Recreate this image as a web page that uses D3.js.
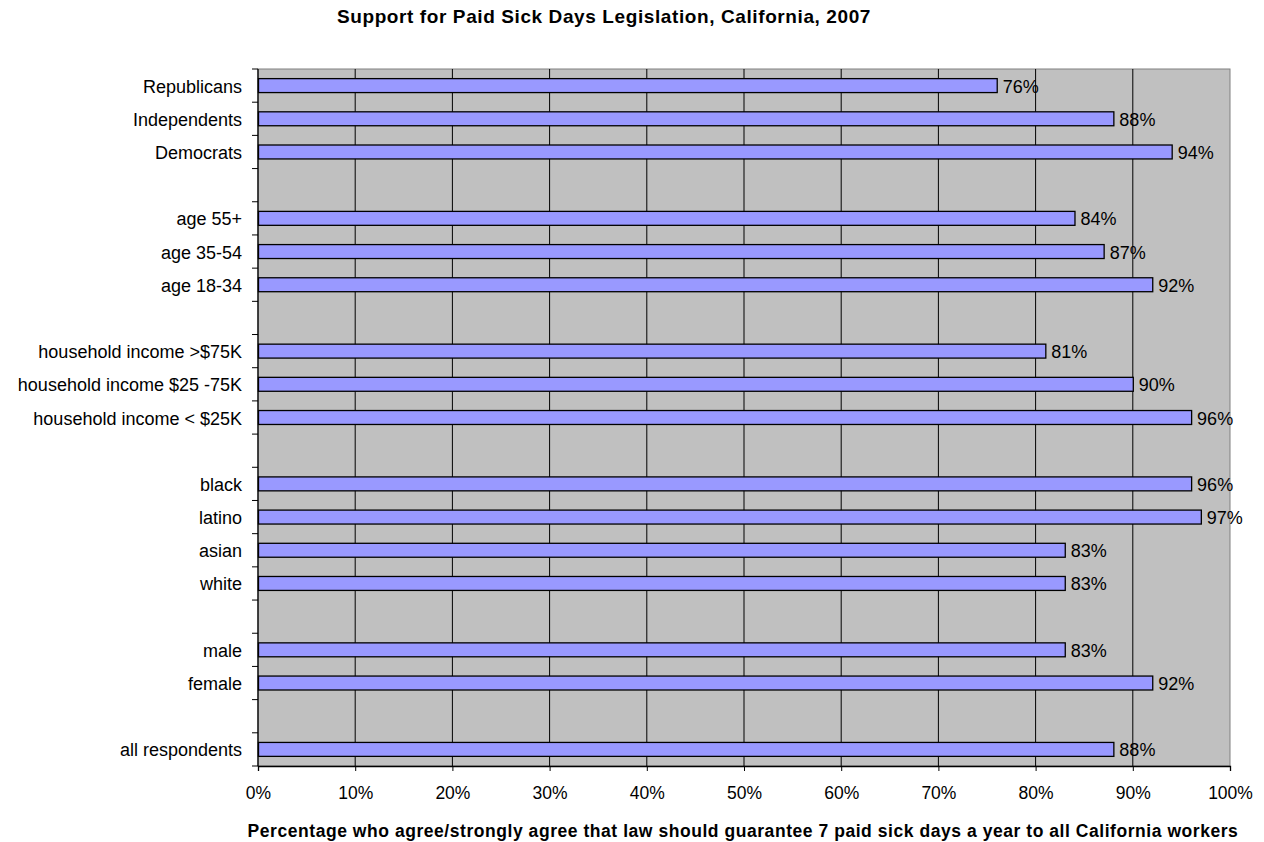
<!DOCTYPE html>
<html>
<head>
<meta charset="utf-8">
<style>
body { margin: 0; background: #fff; }
svg text { font-family: "Liberation Sans", Arial, sans-serif; }
</style>
</head>
<body>
<svg id="svg"></svg>
<script src="https://cdnjs.cloudflare.com/ajax/libs/d3/7.8.5/d3.min.js"></script>
<script>
// slots from top to bottom, blank strings are the gaps between groups
var categories = ['Republicans', 'Independents', 'Democrats', '',
  'age 55+', 'age 35-54', 'age 18-34', '',
  'household income >$75K', 'household income $25 -75K', 'household income < $25K', '',
  'black', 'latino', 'asian', 'white', '',
  'male', 'female', '',
  'all respondents']
var values = [76, 88, 94, null,
  84, 87, 92, null,
  81, 90, 96, null,
  96, 97, 83, 83, null,
  83, 92, null,
  88]
var xTicks = [0, 10, 20, 30, 40, 50, 60, 70, 80, 90, 100]

var title = 'Support for Paid Sick Days Legislation, California, 2007'
var xTitle = 'Percentage who agree/strongly agree that law should guarantee 7 paid sick days a year to all California workers'

var W = 1264, H = 842
var margin = {top: 69, right: 34, bottom: 76, left: 258}
var width = W - margin.left - margin.right,
    height = H - margin.top - margin.bottom

var svg = d3.select('#svg').attr('width', W).attr('height', H)

var x = d3.scaleLinear().domain([0, 100]).range([0, width])
var slots = categories.map(function(d, i) { return i })
var y = d3.scaleBand().domain(slots).range([0, height])

var g = svg.append('g').attr('transform', 'translate(' + margin.left + ',' + margin.top + ')')

// plot background
g.append('rect')
  .attr('width', width).attr('height', height)
  .attr('fill', '#c0c0c0')
  .attr('stroke', '#808080').attr('stroke-width', 1)

// vertical gridlines
g.selectAll('.grid').data(xTicks.slice(1, -1))
  .enter().append('line')
  .attr('x1', function(d) { return x(d) }).attr('x2', function(d) { return x(d) })
  .attr('y1', 0).attr('y2', height)
  .attr('stroke', '#000').attr('stroke-width', 1)

// bars + value labels
var band = y.bandwidth() * 0.42
var bars = g.append('g')
values.forEach(function(v, i) {
  if (v == null) return
  var cy = y(i) + y.bandwidth() / 2
  bars.append('rect')
    .attr('x', 0.5).attr('y', cy - band / 2)
    .attr('width', x(v)).attr('height', band)
    .attr('fill', '#9999ff').attr('stroke', '#000').attr('stroke-width', 1.3)
  bars.append('text')
    .attr('x', x(v) + 6).attr('y', cy + 7)
    .attr('font-size', 18).attr('fill', '#000')
    .text(v + '%')
})

// y axis: ticks between slots
var yAxisG = g.append('g')
yAxisG.append('line').attr('x1', 0).attr('x2', 0).attr('y1', 0).attr('y2', height)
  .attr('stroke', '#000').attr('stroke-width', 1.3)
d3.range(categories.length + 1).forEach(function(i) {
  var yy = i < categories.length ? y(i) : height
  yAxisG.append('line').attr('x1', -6).attr('x2', 0).attr('y1', yy).attr('y2', yy)
    .attr('stroke', '#000').attr('stroke-width', 1)
})
categories.forEach(function(c, i) {
  if (!c) return
  yAxisG.append('text')
    .attr('x', -16).attr('y', y(i) + y.bandwidth() / 2 + 7)
    .attr('text-anchor', 'end').attr('font-size', 18).attr('fill', '#000')
    .text(c)
})

// x axis
var xAxis = d3.axisBottom(x).tickValues(xTicks).tickSize(5).tickPadding(16)
  .tickFormat(function(d) { return d + '%' })
var xg = g.append('g').attr('transform', 'translate(0,' + height + ')').call(xAxis)
xg.select('.domain').attr('stroke', '#000').attr('stroke-width', 1.3)
xg.selectAll('text').attr('font-size', 17.5).attr('fill', '#000')
  .attr('font-family', '"Liberation Sans", Arial, sans-serif')

// titles
svg.append('text').attr('x', 604).attr('y', 23)
  .attr('text-anchor', 'middle').attr('font-weight', 'bold').attr('font-size', 19)
  .attr('letter-spacing', 0.6)
  .text(title)
svg.append('text').attr('x', margin.left + width / 2 - 1).attr('y', 837)
  .attr('text-anchor', 'middle').attr('font-weight', 'bold').attr('font-size', 17.5)
  .attr('letter-spacing', 0.55)
  .text(xTitle)
</script>
</body>
</html>
